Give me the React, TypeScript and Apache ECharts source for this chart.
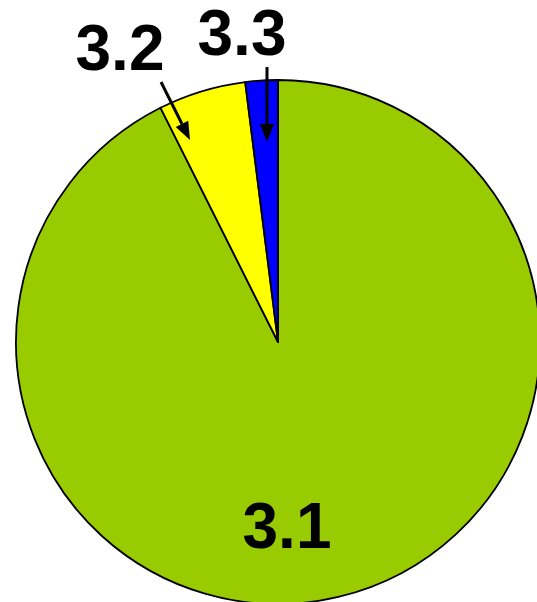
import React, { useEffect, useRef } from "react";
import * as echarts from "echarts";

const categories = ["3.1", "3.2", "3.3"];
const values = [92.6, 5.4, 2.0];
const colors = ["#99CC00", "#FFFF00", "#0000FF"];

// label anchor positions (layout only)
const labelPos: [number, number][] = [
  [287, 526],
  [120, 48],
  [242, 33],
];

function arrow(x1: number, y1: number, x2: number, y2: number, headLen = 18, headHalf = 7) {
  const dx = x2 - x1;
  const dy = y2 - y1;
  const len = Math.sqrt(dx * dx + dy * dy);
  const ux = dx / len;
  const uy = dy / len;
  const bx = x2 - ux * headLen;
  const by = y2 - uy * headLen;
  const px = -uy * headHalf;
  const py = ux * headHalf;
  return [
    {
      type: "line",
      shape: { x1, y1, x2: bx, y2: by },
      style: { stroke: "#000", lineWidth: 3 },
      z: 100,
    },
    {
      type: "polygon",
      shape: {
        points: [
          [x2, y2],
          [bx + px, by + py],
          [bx - px, by - py],
        ],
      },
      style: { fill: "#000" },
      z: 100,
    },
  ];
}

export default function App() {
  const ref = useRef<HTMLDivElement>(null);
  useEffect(() => {
    if (!ref.current) return;
    const chart = echarts.init(ref.current, undefined, { renderer: "svg" });
    chart.setOption({
      animation: false,
      backgroundColor: "#ffffff",
      series: [
        {
          type: "pie",
          center: [278, 342],
          radius: 262,
          startAngle: 90,
          clockwise: true,
          data: categories.map((c, i) => ({
            name: c,
            value: values[i],
            itemStyle: { color: colors[i] },
          })),
          itemStyle: { borderColor: "#000", borderWidth: 1.8 },
          emphasis: { disabled: true },
          label: {
            show: true,
            position: "outside",
            formatter: "{b}",
            fontFamily: "Liberation Sans",
            fontWeight: "bold",
            fontSize: 64,
            lineHeight: 56,
            color: "#000",
            overflow: "none",
            width: 200,
          },
          labelLine: { show: false },
          labelLayout: (params: any) => {
            const p = labelPos[params.dataIndex];
            return { x: p[0], y: p[1], align: "center", verticalAlign: "middle" };
          },
        },
      ],
      graphic: [...arrow(161, 82, 190, 140), ...arrow(267, 67, 267, 142)],
    });
    return () => chart.dispose();
  }, []);
  return (
    <div
      ref={ref}
      style={{ position: "absolute", left: 0, top: 0, width: 537, height: 602 }}
    />
  );
}
